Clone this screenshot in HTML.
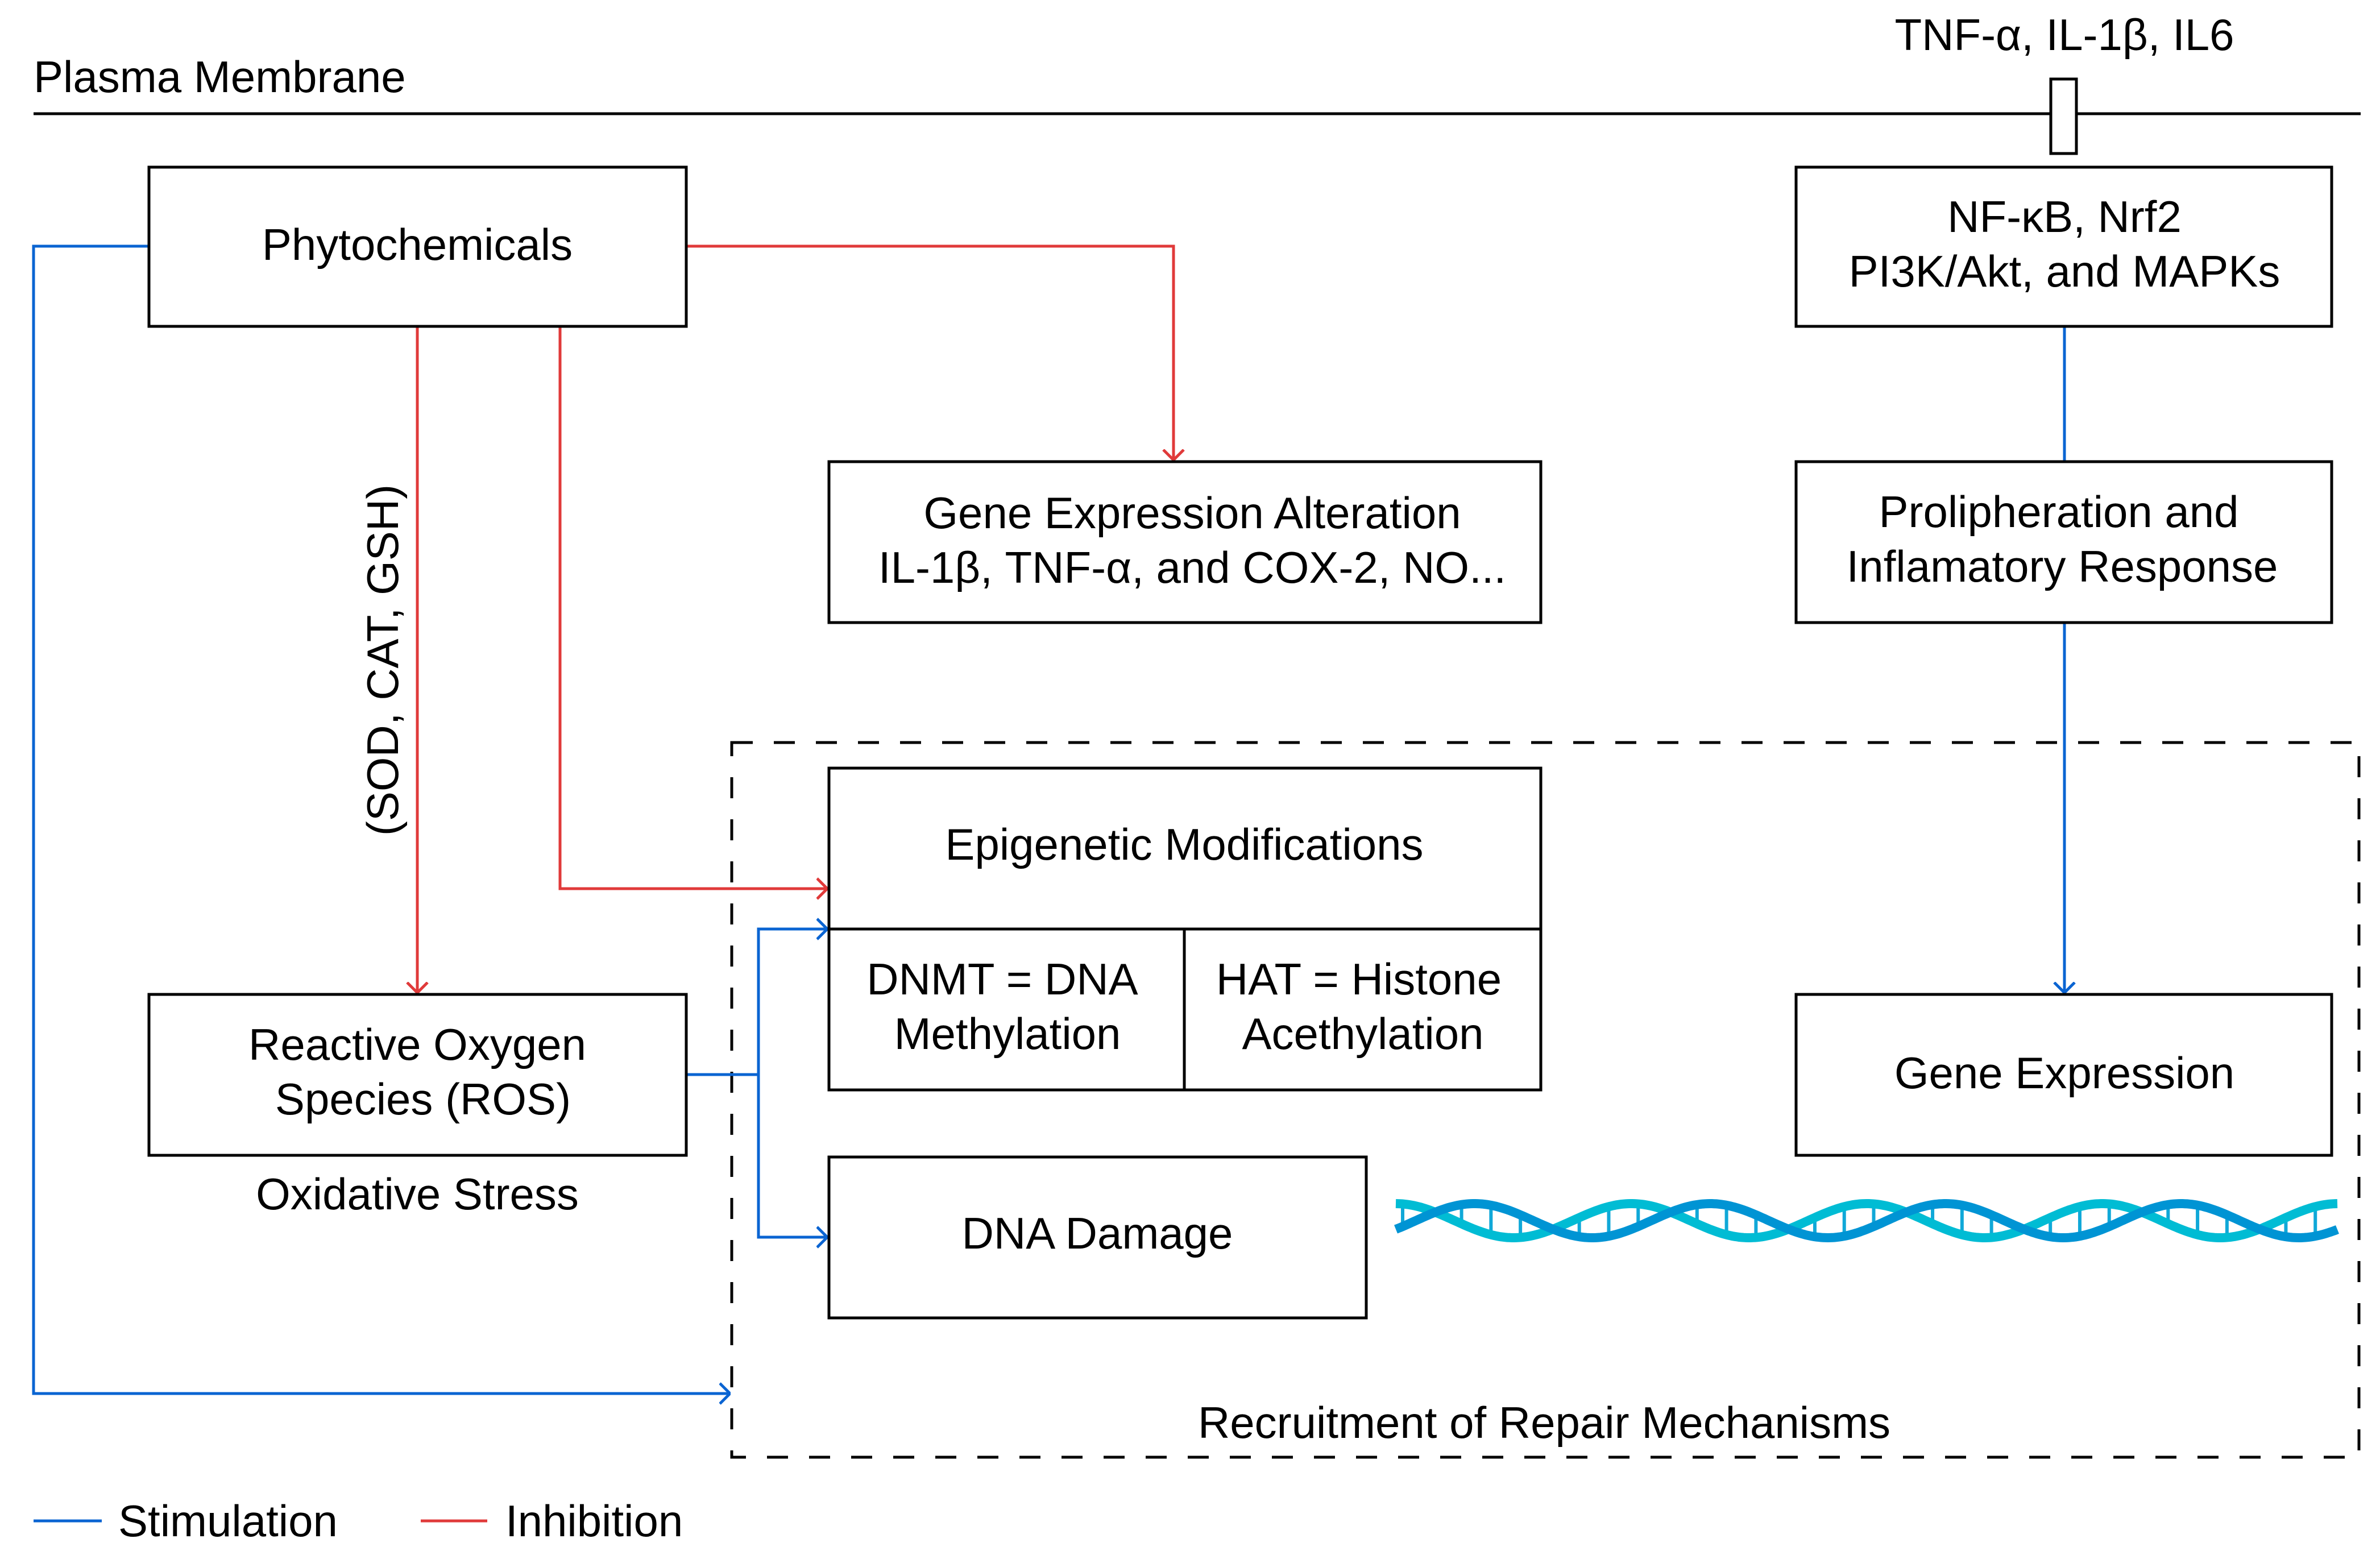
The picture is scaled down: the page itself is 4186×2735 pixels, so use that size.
<!DOCTYPE html>
<html><head><meta charset="utf-8"><style>
html,body{margin:0;padding:0;background:#fff}
svg{display:block}
text{font-family:"Liberation Sans",sans-serif;font-size:78px;fill:#000}
</style></head><body>
<svg id="s" width="4186" height="2735" viewBox="0 0 4186 2735" xmlns="http://www.w3.org/2000/svg">
<defs>
<marker id="ar" viewBox="0 0 20 40" refX="20" refY="20" markerWidth="20" markerHeight="40" markerUnits="userSpaceOnUse" orient="auto"><path d="M1,2 L19,20 L1,38" fill="none" stroke="#e03a3a" stroke-width="5"/></marker>
<marker id="ab" viewBox="0 0 20 40" refX="20" refY="20" markerWidth="20" markerHeight="40" markerUnits="userSpaceOnUse" orient="auto"><path d="M1,2 L19,20 L1,38" fill="none" stroke="#0a64d2" stroke-width="5"/></marker>
</defs>
<text x="59" y="162" font-size="80">Plasma Membrane</text>
<line x1="59" y1="200" x2="4152" y2="200" stroke="#000" stroke-width="5"/>
<rect x="3607" y="139" width="45" height="131" fill="#fff" stroke="#000" stroke-width="5"/>
<text x="3631" y="88" text-anchor="middle" font-size="80">TNF-α, IL-1β, IL6</text>

<rect x="1287" y="1306" width="2862" height="1257" fill="none" stroke="#000" stroke-width="5" stroke-dasharray="37 37"/>

<g fill="none" stroke-width="5">
<polyline points="262,433 59,433 59,2451 1285,2451" stroke="#0a64d2" marker-end="url(#ab)"/>
<polyline points="1207,433 2064,433 2064,810" stroke="#e03a3a" marker-end="url(#ar)"/>
<polyline points="734,574 734,1747" stroke="#e03a3a" marker-end="url(#ar)"/>
<polyline points="985,574 985,1563 1456,1563" stroke="#e03a3a" marker-end="url(#ar)"/>
<polyline points="1207,1890 1334,1890" stroke="#0a64d2"/>
<polyline points="1334,1890 1334,1634 1456,1634" stroke="#0a64d2" marker-end="url(#ab)"/>
<polyline points="1334,1890 1334,2176 1456,2176" stroke="#0a64d2" marker-end="url(#ab)"/>
<polyline points="3631,574 3631,812" stroke="#0a64d2"/>
<polyline points="3631,1095 3631,1747" stroke="#0a64d2" marker-end="url(#ab)"/>
</g>

<g fill="#fff" stroke="#000" stroke-width="5">
<rect x="262" y="294" width="945" height="280"/>
<rect x="3159" y="294" width="942" height="280"/>
<rect x="1458" y="812" width="1252" height="283"/>
<rect x="3159" y="812" width="942" height="283"/>
<rect x="1458" y="1351" width="1252" height="566"/>
<rect x="262" y="1749" width="945" height="283"/>
<rect x="3159" y="1749" width="942" height="283"/>
<rect x="1458" y="2035" width="945" height="283"/>
</g>
<line x1="1458" y1="1634" x2="2710" y2="1634" stroke="#000" stroke-width="5"/>
<line x1="2083" y1="1634" x2="2083" y2="1917" stroke="#000" stroke-width="5"/>

<g text-anchor="middle">
<text x="734" y="457">Phytochemicals</text>
<text x="3631" y="408">NF-κB, Nrf2</text>
<text x="3631" y="504">PI3K/Akt, and MAPKs</text>
<text x="2097" y="929">Gene Expression Alteration</text>
<text x="2097" y="1025">IL-1β, TNF-α, and COX-2, NO...</text>
<text x="3621" y="927">Prolipheration and</text>
<text x="3627" y="1023">Inflamatory Response</text>
<text x="2083" y="1512">Epigenetic Modifications</text>
<text x="1763" y="1749">DNMT = DNA</text>
<text x="1772" y="1845">Methylation</text>
<text x="2390" y="1749">HAT = Histone</text>
<text x="2397" y="1845">Acethylation</text>
<text x="734" y="1864">Reactive Oxygen</text>
<text x="744" y="1960">Species (ROS)</text>
<text x="734" y="2127">Oxidative Stress</text>
<text x="3631" y="1914">Gene Expression</text>
<text x="1930" y="2196">DNA Damage</text>
<text x="2716" y="2529">Recruitment of Repair Mechanisms</text>
<text transform="translate(700,1161) rotate(-90)">(SOD, CAT, GSH)</text>
</g>

<line x1="59" y1="2675" x2="179" y2="2675" stroke="#0a64d2" stroke-width="5"/>
<text x="208" y="2702">Stimulation</text>
<line x1="740" y1="2675" x2="857" y2="2675" stroke="#e03a3a" stroke-width="5"/>
<text x="889" y="2702">Inhibition</text>

<g id="dna"></g>
</svg>
<script>
(function(){
var g=document.getElementById('dna');var x0=2455,x1=4112,cy=2147,A=30,P=(x1-x0)/4;
function path(ph){var d='';for(var x=x0;x<=x1;x+=4){var y=cy-A*Math.cos(2*Math.PI*(x-x0)/P+ph);d+=(x==x0?'M':'L')+x+','+y.toFixed(1)+' ';}return d;}
var ns='http://www.w3.org/2000/svg';
for(var x=x0+12;x<x1;x+=P/8){var ya=cy-A*Math.cos(2*Math.PI*(x-x0)/P),yb=cy-A*Math.cos(2*Math.PI*(x-x0)/P-2.1);
var l=document.createElementNS(ns,'line');l.setAttribute('x1',x);l.setAttribute('x2',x);l.setAttribute('y1',ya);l.setAttribute('y2',yb);l.setAttribute('stroke','#10a8d8');l.setAttribute('stroke-width','6');g.appendChild(l);}
[[0,'#00bcd4'],[-2.1,'#0094d4']].forEach(function(s){var p=document.createElementNS(ns,'path');p.setAttribute('d',path(s[0]));p.setAttribute('fill','none');p.setAttribute('stroke',s[1]);p.setAttribute('stroke-width','16');g.appendChild(p);});
})();
</script>
</body></html>
